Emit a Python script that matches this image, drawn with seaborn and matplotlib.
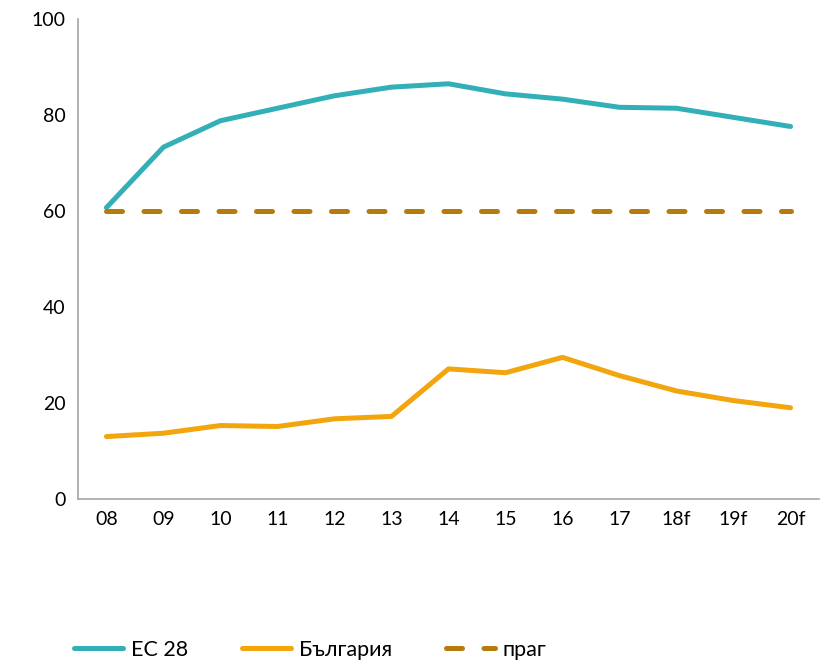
import numpy as np
import pandas as pd
import matplotlib
matplotlib.use("Agg")
import matplotlib.pyplot as plt
import seaborn as sns

# ---------------------------------
# Data
# ---------------------------------
years = ["08", "09", "10", "11", "12", "13", "14", "15", "16", "17", "18f", "19f", "20f"]
eu28 = [60.7, 73.3, 78.8, 81.4, 84.0, 85.8, 86.5, 84.4, 83.3, 81.6, 81.4, 79.5, 77.6]
bulgaria = [13.0, 13.7, 15.3, 15.1, 16.7, 17.2, 27.1, 26.3, 29.5, 25.7, 22.5, 20.5, 19.0]
threshold = [60] * len(years)

names = ["ЕС 28", "България", "праг"]
colors = ["#33AFB8", "#F2A50C", "#B57B0D"]

sns.set_style("white")
plt.rcParams["font.family"] = ["Lato", "DejaVu Sans"]
plt.rcParams["text.color"] = "black"
plt.rcParams["xtick.color"] = "black"
plt.rcParams["ytick.color"] = "black"

x = np.arange(len(years))
df = pd.DataFrame({"x": x, names[0]: eu28, names[1]: bulgaria, names[2]: threshold})

fig = plt.figure(figsize=(8.29, 6.66), dpi=100)
ax = fig.add_axes([0.094, 0.2508, 0.894, 0.7207])

lw = 3.6
sns.lineplot(data=df, x="x", y=names[0], color=colors[0], lw=lw, ax=ax,
             label=names[0], solid_capstyle="round")
sns.lineplot(data=df, x="x", y=names[1], color=colors[1], lw=lw, ax=ax,
             label=names[1], solid_capstyle="round")
sns.lineplot(data=df, x="x", y=names[2], color=colors[2], lw=lw, ax=ax,
             label=names[2], dashes=False)
ax.lines[2].set_dashes((3.2, 4.3))
ax.lines[2].set_dash_capstyle("round")

ax.set_xlim(-0.5, len(years) - 0.5)
ax.set_ylim(0, 100)
ax.set_yticks([0, 20, 40, 60, 80, 100])
ax.set_xticks(np.arange(len(years) + 1) - 0.5)
ax.set_xticklabels([])
ax.set_xticks(x, minor=True)
ax.set_xticklabels(years, minor=True)
ax.tick_params(axis="x", which="major", length=5, width=1, color="#A6A6A6", direction="out")
ax.tick_params(axis="x", which="minor", length=0, pad=9, labelsize=14)
ax.tick_params(axis="y", length=5, width=1, color="#A6A6A6", direction="out", labelsize=14, pad=4)
ax.set_xlabel("")
ax.set_ylabel("")

for s in ["top", "right"]:
    ax.spines[s].set_visible(False)
for s in ["left", "bottom"]:
    ax.spines[s].set_color("#A6A6A6")
    ax.spines[s].set_linewidth(1.2)

handles, labels = ax.get_legend_handles_labels()
ax.get_legend().remove()
leg = fig.legend(handles, labels, loc="center", bbox_to_anchor=(0.374, 0.024), ncol=3,
                 frameon=False, fontsize=15.5, handlelength=2.3, columnspacing=2.5,
                 handletextpad=0.35, borderaxespad=0)
for h in leg.get_lines():
    h.set_solid_capstyle("round")

fig.savefig("out.png", dpi=100)
